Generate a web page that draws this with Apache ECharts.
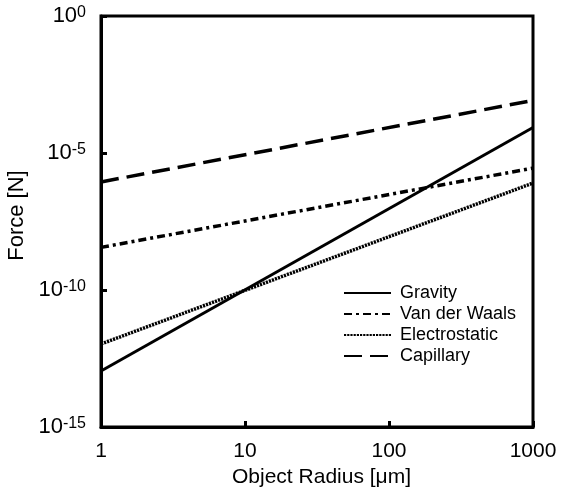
<!DOCTYPE html>
<html>
<head>
<meta charset="utf-8">
<script src="https://cdn.jsdelivr.net/npm/echarts@6/dist/echarts.min.js"></script>
<style>html,body{margin:0;padding:0;background:#fff}#c{width:563px;height:488px}</style>
</head>
<body>
<div id="c"></div>
<script>
var radius = [1, 1000];
var seriesNames = ['Gravity', 'Van der Waals', 'Electrostatic', 'Capillary'];
var gravity = [1.1e-13, 8.5e-5];
var vanDerWaals = [3.6e-9, 2.8e-6];
var electrostatic = [1.07e-12, 8.0e-7];
var capillary = [8.8e-7, 8.3e-4];
var xTicks = [1, 10, 100, 1000];
var yTicks = [1e-15, 1e-10, 1e-5, 1];

var FONT = '"Liberation Sans", Arial, sans-serif';
function pairs(vals) { return radius.map(function (r, i) { return [r, vals[i]]; }); }

var styles = [
  { type: 'solid', width: 3 },
  { type: [8, 4, 3, 4], width: 3.5 },
  { type: [2.2, 1], width: 3.5 },
  { type: [18, 8], width: 3.5 }
];
var datas = [gravity, vanDerWaals, electrostatic, capillary];

var chart = echarts.init(document.getElementById('c'), null, { renderer: 'canvas' });
chart.setOption({
  animation: false,
  backgroundColor: '#fff',
  textStyle: { fontFamily: FONT },
  grid: { left: 101, right: 30, top: 16, bottom: 61, show: true, borderColor: '#000', borderWidth: 3,
    containLabel: false, outerBoundsMode: 'none' },
  legend: {
    orient: 'vertical', left: 338, top: 279, itemWidth: 47, itemHeight: 18, itemGap: 3,
    data: seriesNames,
    itemStyle: { opacity: 0 },
    textStyle: { fontFamily: FONT, fontSize: 18, color: '#000', padding: [0, 0, 0, 4] }
  },
  xAxis: {
    type: 'log', logBase: 10, min: 1, max: 1000, interval: 1,
    name: 'Object Radius [μm]', nameLocation: 'middle', nameGap: 38,
    nameTextStyle: { fontFamily: FONT, fontSize: 21, color: '#000', padding: [0, 0, 0, 9] },
    axisLine: { show: true, lineStyle: { color: '#000', width: 3 } },
    axisTick: { show: true, inside: true, length: 6, lineStyle: { color: '#000', width: 3 } },
    axisLabel: { fontFamily: FONT, fontSize: 21, color: '#000', margin: 14,
      formatter: function (v) { return String(Math.round(v)); } },
    splitLine: { show: false }
  },
  yAxis: {
    type: 'log', logBase: 10, min: 1e-15, max: 1, interval: 5,
    name: 'Force [N]', nameLocation: 'middle', nameGap: 73,
    nameTextStyle: { fontFamily: FONT, fontSize: 22, color: '#000', padding: [0, 0, 0, 12] },
    axisLine: { show: true, lineStyle: { color: '#000', width: 3 } },
    axisTick: { show: true, inside: true, length: 6, lineStyle: { color: '#000', width: 3 } },
    axisLabel: { margin: 15, color: '#000',
      formatter: function (v) { var e = Math.round(Math.log10(v)); return '{b|10}{s|' + (e === 0 ? '0' : String(e)) + '}'; },
      rich: {
        b: { fontFamily: FONT, fontSize: 22, color: '#000' },
        s: { fontFamily: FONT, fontSize: 16, color: '#000', padding: [0, 0, 6, 0] }
      }
    },
    splitLine: { show: false }
  },
  series: seriesNames.map(function (n, i) {
    return {
      name: n, type: 'line', data: pairs(datas[i]), symbol: 'none', showSymbol: false,
      lineStyle: { color: '#000', width: styles[i].width, type: styles[i].type, cap: 'butt' },
      itemStyle: { color: '#000' }
    };
  })
});
</script>
</body>
</html>
